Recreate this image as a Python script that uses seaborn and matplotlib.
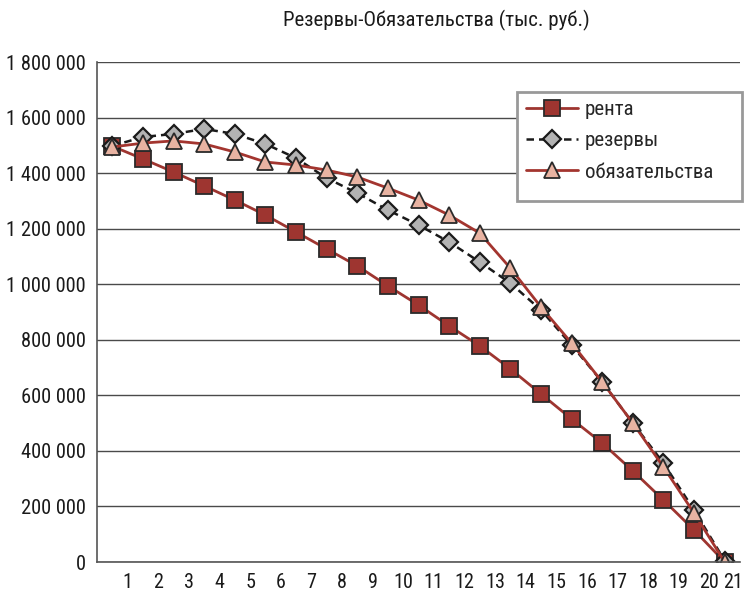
import matplotlib
matplotlib.use("Agg")
import matplotlib.pyplot as plt
import matplotlib.transforms as mtransforms
from matplotlib.patches import Rectangle
import seaborn as sns
import pandas as pd
import numpy as np
from matplotlib.ticker import FuncFormatter

periods = list(range(1, 22))
renta = [1497000, 1451000, 1404000, 1354000, 1303000, 1249000, 1188000, 1127000,
         1066000, 994000, 925000, 850000, 778000, 695000, 605000, 515000, 428000,
         328000, 223000, 115000, 0]
rezervy = [1498000, 1530000, 1541000, 1559000, 1541000, 1505000, 1454000, 1382000,
           1328000, 1267000, 1213000, 1152000, 1080000, 1004000, 907000, 781000,
           648000, 500000, 356000, 187000, 5000]
obyaz = [1494000, 1508000, 1516000, 1505000, 1476000, 1440000, 1429000, 1411000,
         1386000, 1346000, 1303000, 1249000, 1184000, 1058000, 918000, 788000,
         648000, 500000, 342000, 176000, 0]
series_names = ["рента", "резервы", "обязательства"]
title = "Резервы-Обязательства (тыс. руб.)"

sns.set_style("white")
plt.rcParams['font.family'] = ['Roboto Condensed', 'DejaVu Sans']

W, H = 748, 593
fig = plt.figure(figsize=(W/100, H/100), dpi=100)
ax = fig.add_axes([97/W, 1 - 562/H, (740-97)/W, (562-62)/H])

x = np.array(periods) - 0.5
df = pd.DataFrame({"x": x, "renta": renta, "rezervy": rezervy, "obyaz": obyaz})

sns.lineplot(data=df, x="x", y="renta", ax=ax, color="#9e3530", lw=2,
             marker="s", markersize=11, markerfacecolor="#9e3530",
             markeredgecolor="#2a2a2a", markeredgewidth=1.3, label=series_names[0])
sns.lineplot(data=df, x="x", y="rezervy", ax=ax, color="#1a1a1a", lw=1.8,
             linestyle=(0, (3, 2)), marker="D", markersize=9,
             markerfacecolor="#b3b3b3", markeredgecolor="#1a1a1a",
             markeredgewidth=1.6, label=series_names[1])
sns.lineplot(data=df, x="x", y="obyaz", ax=ax, color="#a3352f", lw=2,
             marker="^", markersize=12, markerfacecolor="#e8b3a2",
             markeredgecolor="#2a2a2a", markeredgewidth=1.3, label=series_names[2])

ax.set_xlim(0, 21)
ax.set_ylim(0, 1800000)
ax.set_xticks(range(0, 22))
ax.set_xticklabels([""] + [str(p) for p in periods])
ax.set_yticks(np.arange(0, 1800001, 200000))
ax.yaxis.set_major_formatter(FuncFormatter(lambda v, p: f"{int(v):,}".replace(",", " ")))
ax.set_xlabel("")
ax.set_ylabel("")

ax.grid(axis="y", color="#4a4a4a", lw=1)
ax.grid(axis="x", visible=False)
for s in ["top", "right"]:
    ax.spines[s].set_visible(False)
for s in ["left", "bottom"]:
    ax.spines[s].set_color("#555555")
    ax.spines[s].set_linewidth(1.2)
ax.tick_params(axis="both", which="both", direction="out", length=5, width=1,
               color="#555555", labelsize=14.8, labelcolor="#1a1a1a")
ax.tick_params(axis="x", pad=3, labelsize=14.5)
ax.tick_params(axis="y", pad=3)

# nudge the last x label ("21") slightly left so it stays inside the figure
last = ax.xaxis.get_major_ticks()[-1].label1
last.set_transform(last.get_transform() +
                   mtransforms.ScaledTranslation(-5/72, 0, fig.dpi_scale_trans))

fig.text(0.5*(284+588)/W, 1 - 20/H, title, ha="center", va="center",
         fontsize=15, color="#1a1a1a")

leg = ax.legend(loc="upper left", bbox_to_anchor=(0.652, 0.942), fontsize=15,
                frameon=False, handlelength=2.5,
                borderpad=0.45, labelspacing=0.58, handletextpad=0.35,
                borderaxespad=0)
leg.set_zorder(6)
frame = Rectangle((517/W, 1 - 201/H), (742-517)/W, (201-92)/H,
                  transform=fig.transFigure, facecolor="white",
                  edgecolor="#999999", lw=2, clip_on=False, zorder=5.5)
ax.add_patch(frame)

fig.savefig("out.png", dpi=100)
